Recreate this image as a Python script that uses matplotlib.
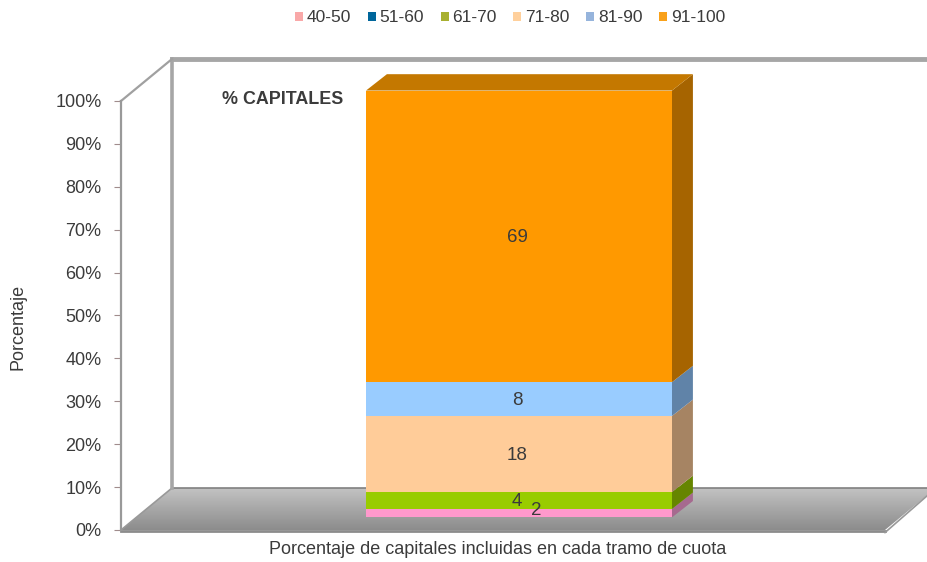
import matplotlib
matplotlib.use('Agg')
import matplotlib.pyplot as plt
import numpy as np
from matplotlib.patches import Patch, Polygon

plt.rcParams['font.family'] = ['Liberation Sans', 'DejaVu Sans']
TXT = '#3b3b3b'

# Datos
tramos = ['40-50', '51-60', '61-70', '71-80', '81-90', '91-100']
valores = [2, 0, 4, 18, 8, 69]
color_leyenda = ['#F9A8A8', '#00669B', '#A8B030', '#FFD09C', '#96B4DC', '#F9A11A']
color_frente = ['#FF99CC', '#006699', '#99CC00', '#FFCC99', '#99CCFF', '#FF9900']
color_lado = ['#A66A8F', '#004466', '#668500', '#A68463', '#6083A8', '#A66400']
color_tapa = '#C47800'
yticks = list(range(0, 101, 10))

fig = plt.figure(figsize=(9.28, 5.62), dpi=100)
ax = fig.add_axes([121 / 928, 32 / 562, 764 / 928, 429 / 562])

# escala: barra de ancho 1 = 306 px, 1% = 4.29 px
ax.set_xlim(-398 / 306, 366 / 306)
ax.set_ylim(0, 100)
DX = 51 / 306  # profundidad total del suelo
DY = 42 / 4.29
F1, F2 = 0.30, 0.71  # frente y fondo de la barra

# suelo con degradado
x_l, x_r = ax.get_xlim()
suelo = Polygon([(x_l, 0), (x_r, 0), (x_r + DX, DY), (x_l + DX, DY)],
                transform=ax.transData, fc='none', ec='none', clip_on=False)
ax.add_patch(suelo)
grad = np.linspace(0.55, 0.76, 64).reshape(-1, 1)
im = ax.imshow(grad, extent=(x_l, x_r + DX, 0, DY), origin='lower', cmap='gray',
               vmin=0, vmax=1, aspect='auto', zorder=1)
im.set_clip_box(fig.bbox)
im.set_clip_path(suelo)
ax.plot([x_l, x_r], [-0.2, -0.2], color='#8C8C8C', lw=2, clip_on=False, zorder=2)
ax.plot([x_r, x_r + DX], [-0.6, DY], color='#999999', lw=1.2, clip_on=False, zorder=2)
ax.plot([x_l + DX, x_r + DX], [DY, DY], color='#808080', lw=1.2, clip_on=False, zorder=2)
ax.plot([x_l, x_l + DX], [0, DY], color='#999999', lw=1.2, clip_on=False, zorder=2)

# paredes
ax.plot([x_l + DX, x_l + DX], [DY, 100 + DY], color='#A6A6A6', lw=2.6, clip_on=False, zorder=2)
ax.plot([x_l + DX, x_r + DX], [100 + DY, 100 + DY], color='#A6A6A6', lw=3.5, clip_on=False, zorder=2)
ax.plot([x_l, x_l + DX], [100, 100 + DY], color='#A0A0A0', lw=1.6, clip_on=False, zorder=2)

# barra apilada
esc = 99.5 / sum(valores)
base = F1 * DY
alto = (F2 - F1) * DY * 0.95
ancho = (F2 - F1) * DX
for v, cf, cl in zip(valores, color_frente, color_lado):
    h = v * esc
    if h > 0:
        ax.bar([0], [h], width=1, bottom=base, color=cf, zorder=3, clip_on=False)
        ax.add_patch(Polygon([(0.5, base), (0.5 + ancho, base + alto),
                              (0.5 + ancho, base + h + alto), (0.5, base + h)],
                             fc=cl, ec='none', zorder=3, clip_on=False))
    base += h
ax.add_patch(Polygon([(-0.5, base), (0.5, base), (0.5 + ancho, base + alto),
                      (-0.5 + ancho, base + alto)], fc=color_tapa, ec='none',
                     zorder=3, clip_on=False))

# etiquetas de datos
base = F1 * DY
for v in valores:
    h = v * esc
    if v == 2:
        ax.annotate(str(v), (0, base + h / 2), xytext=(17, 3), textcoords='offset pixels',
                    ha='center', va='center', fontsize=13.5, color=TXT, zorder=5)
    elif v > 0:
        ax.annotate(str(v), (0, base + h / 2), xytext=(-2, -1), textcoords='offset pixels',
                    ha='center', va='center', fontsize=13.5, color=TXT, zorder=5)
    base += h

ax.text(222 / 928, 1 - 99 / 562, '% CAPITALES', transform=fig.transFigure, fontsize=12.9,
        fontweight='bold', color=TXT, va='center', ha='left')

# ejes
ax.patch.set_alpha(0)
for s in ['top', 'right', 'bottom']:
    ax.spines[s].set_visible(False)
ax.spines['left'].set_color('#999999')
ax.spines['left'].set_linewidth(1.6)
ax.set_xticks([])
ax.set_yticks(yticks)
ax.set_yticklabels([f'{t}%' for t in yticks], fontsize=13, color=TXT)
ax.tick_params(axis='y', length=5, width=0.8, color='#A08C8C', pad=9)
fig.text(18 / 928, 1 - 327 / 562, 'Porcentaje', rotation=90, fontsize=13, color=TXT,
         ha='center', va='center')
fig.text(498 / 928, 1 - 550 / 562, 'Porcentaje de capitales incluidas en cada tramo de cuota',
         fontsize=13, color=TXT, ha='center', va='center')

handles = [Patch(fc=c, ec='none', label=t) for t, c in zip(tramos, color_leyenda)]
fig.legend(handles=handles, loc='center', bbox_to_anchor=(510 / 928, 1 - 18 / 562), ncol=6,
           frameon=False, fontsize=12.5, labelcolor=TXT, handlelength=0.46, handleheight=0.46,
           handletextpad=0.23, columnspacing=0.94, borderpad=0)

fig.savefig('out.png', dpi=100)
